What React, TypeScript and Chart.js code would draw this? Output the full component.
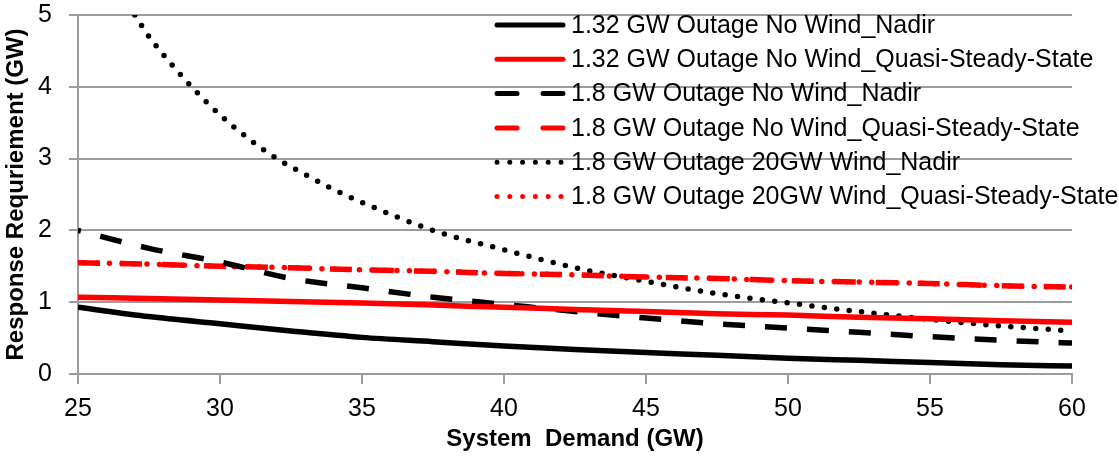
import React, { useEffect, useRef } from "react";
import { Chart, registerables } from "chart.js";

Chart.register(...registerables);

// System demand (GW)
const demandX = [25, 27.5, 30, 32.5, 35, 37.5, 40, 42.5, 45, 47.5, 50, 52.5, 55, 57.5, 60];
const demandXWind = [27, 27.5, 28, 29, 30, 31, 32, 33, 34, 35, 37.5, 40, 42.5, 45, 47.5, 50, 52.5, 55, 57.5, 60];

// Response requirement (GW)
const nadir132NoWind = [0.93, 0.8, 0.7, 0.6, 0.51, 0.45, 0.39, 0.34, 0.3, 0.26, 0.22, 0.19, 0.16, 0.13, 0.11];
const qss132NoWind = [1.07, 1.05, 1.03, 1.01, 0.99, 0.96, 0.93, 0.9, 0.87, 0.84, 0.82, 0.79, 0.77, 0.74, 0.72];
const nadir18NoWind = [2.0, 1.75, 1.56, 1.33, 1.2, 1.07, 0.97, 0.87, 0.78, 0.7, 0.64, 0.58, 0.52, 0.47, 0.43];
const qss18NoWind = [1.55, 1.53, 1.5, 1.48, 1.45, 1.43, 1.4, 1.38, 1.35, 1.33, 1.3, 1.28, 1.26, 1.23, 1.21];
const nadir18Wind = [5.0, 4.7, 4.45, 4.0, 3.61, 3.28, 3.0, 2.78, 2.57, 2.39, 2.0, 1.73, 1.48, 1.29, 1.12, 0.99, 0.87, 0.76, 0.67, 0.6];
const qss18Wind = [1.55, 1.53, 1.5, 1.48, 1.45, 1.43, 1.4, 1.38, 1.35, 1.33, 1.3, 1.28, 1.26, 1.23, 1.21];

const seriesLabels = [
  "1.32 GW Outage No Wind_Nadir",
  "1.32 GW Outage No Wind_Quasi-Steady-State",
  "1.8 GW Outage No Wind_Nadir",
  "1.8 GW Outage No Wind_Quasi-Steady-State",
  "1.8 GW Outage 20GW Wind_Nadir",
  "1.8 GW Outage 20GW Wind_Quasi-Steady-State",
];

const xTitle = "System  Demand (GW)";
const yTitle = "Response Requriement (GW)";

const FONT = "'Liberation Sans', Arial, sans-serif";
const GRID = "#9c9c9c";

const toPoints = (xs: number[], ys: number[]) => xs.map((x, i) => ({ x, y: ys[i] }));

const insideLegend = {
  id: "insideLegend",
  afterDraw(chart: any) {
    const { ctx, chartArea } = chart;
    const o = chart.options.plugins.insideLegend;
    ctx.save();
    chart.data.datasets.forEach((ds: any, i: number) => {
      const y = chartArea.top + o.top + i * o.rowHeight;
      const x0 = chartArea.left + o.left;
      ctx.strokeStyle = ds.borderColor;
      ctx.lineWidth = ds.legendWidth;
      ctx.lineCap = ds.legendCap;
      ctx.setLineDash(ds.legendDash);
      ctx.beginPath();
      ctx.moveTo(x0 + ds.legendInset, y);
      ctx.lineTo(x0 + o.sampleLength - ds.legendInset, y);
      ctx.stroke();
      ctx.setLineDash([]);
      ctx.fillStyle = "#000";
      ctx.font = o.font;
      ctx.textBaseline = "middle";
      ctx.textAlign = "left";
      ctx.fillText(ds.label, x0 + o.sampleLength + o.gap, y + 1);
    });
    ctx.restore();
  },
};

export default function App() {
  const ref = useRef<HTMLCanvasElement | null>(null);

  useEffect(() => {
    if (!ref.current) return;
    const common = {
      pointRadius: 0,
      fill: false,
      cubicInterpolationMode: "monotone" as const,
    };
    const chart = new Chart(ref.current, {
      type: "line",
      data: {
        datasets: [
          {
            ...common,
            label: seriesLabels[0],
            data: toPoints(demandX, nadir132NoWind),
            borderColor: "#000000",
            borderWidth: 5.5,
            legendWidth: 5,
            legendDash: [],
            legendCap: "round",
            legendInset: 2,
          },
          {
            ...common,
            label: seriesLabels[1],
            data: toPoints(demandX, qss132NoWind),
            borderColor: "#ff0000",
            borderWidth: 5.5,
            legendWidth: 5,
            legendDash: [],
            legendCap: "round",
            legendInset: 2,
          },
          {
            ...common,
            label: seriesLabels[2],
            data: toPoints(demandX, nadir18NoWind),
            borderColor: "#000000",
            borderWidth: 5.5,
            borderDash: [22, 20],
            borderDashOffset: 19,
            legendWidth: 5,
            legendDash: [20, 26],
            legendCap: "round",
            legendInset: 2,
          },
          {
            ...common,
            label: seriesLabels[3],
            data: toPoints(demandX, qss18NoWind),
            borderColor: "#ff0000",
            borderWidth: 5.5,
            borderDash: [22, 20],
            legendWidth: 5,
            legendDash: [20, 26],
            legendCap: "round",
            legendInset: 2,
          },
          {
            ...common,
            label: seriesLabels[4],
            data: toPoints(demandXWind, nadir18Wind),
            borderColor: "#000000",
            borderWidth: 5.5,
            borderDash: [0, 12.5],
            borderCapStyle: "round",
            legendWidth: 5,
            legendDash: [0, 12.8],
            legendCap: "round",
            legendInset: 2,
          },
          {
            ...common,
            label: seriesLabels[5],
            data: toPoints(demandX, qss18Wind),
            borderColor: "#ff0000",
            borderWidth: 5.5,
            borderDash: [0, 12.5],
            borderDashOffset: 6,
            borderCapStyle: "round",
            legendWidth: 5,
            legendDash: [0, 12.8],
            legendCap: "round",
            legendInset: 2,
          },
        ] as any,
      },
      options: {
        animation: false,
        responsive: true,
        maintainAspectRatio: false,
        devicePixelRatio: 1,
        layout: { padding: { left: 0, right: 47, top: 15, bottom: 0 } },
        plugins: {
          legend: { display: false },
          tooltip: { enabled: false },
          insideLegend: {
            top: 10,
            left: 417,
            rowHeight: 34.3,
            sampleLength: 70,
            gap: 6,
            font: `25px ${FONT}`,
          },
        } as any,
        scales: {
          x: {
            type: "linear",
            min: 25,
            max: 60,
            afterFit: (s: any) => {
              s.height = 82;
              s.paddingLeft = 0;
              s.paddingRight = 0;
            },
            ticks: {
              stepSize: 5,
              color: "#000",
              padding: 10,
              font: { family: FONT, size: 25 },
            },
            grid: {
              drawOnChartArea: false,
              drawTicks: true,
              tickLength: 10,
              color: GRID,
              lineWidth: 2,
            },
            border: { color: GRID, width: 2 },
            title: {
              display: true,
              text: xTitle,
              color: "#000",
              font: { family: FONT, size: 24, weight: "bold" },
              padding: { top: 0, bottom: 2 },
            },
          },
          y: {
            type: "linear",
            min: 0,
            max: 5,
            afterFit: (s: any) => {
              s.width = 78;
              s.paddingTop = 0;
              s.paddingBottom = 0;
            },
            ticks: {
              stepSize: 1,
              color: "#000",
              padding: 17,
              font: { family: FONT, size: 25 },
            },
            grid: {
              drawTicks: true,
              tickLength: 9,
              color: GRID,
              lineWidth: 2,
            },
            border: { color: GRID, width: 2 },
            title: {
              display: true,
              text: yTitle,
              color: "#000",
              font: { family: FONT, size: 24, weight: "bold" },
              padding: { top: 2, bottom: 0 },
            },
          },
        },
      },
      plugins: [insideLegend],
    });
    return () => chart.destroy();
  }, []);

  return (
    <div style={{ position: "fixed", left: 0, top: 0, width: 1119, height: 456, background: "#fff" }}>
      <canvas ref={ref} />
    </div>
  );
}
